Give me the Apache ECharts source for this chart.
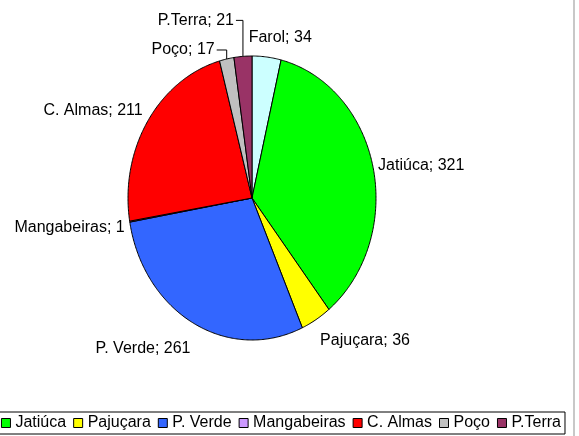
<!DOCTYPE html>
<html>
<head>
<meta charset="utf-8">
<script src="https://cdn.jsdelivr.net/npm/echarts@6/dist/echarts.min.js"></script>
<style>
html, body { margin: 0; padding: 0; background: #fff; }
#main { width: 573px; height: 436px; border-right: 2px solid #c8c8c8; }
</style>
</head>
<body>
<div id="main"></div>
<script>
// slices, clockwise from 12 o'clock
var names = ['Farol', 'Jatiúca', 'Pajuçara', 'P. Verde', 'Mangabeiras', 'C. Almas', 'Poço', 'P.Terra'];
var values = [34, 321, 36, 261, 1, 211, 17, 21];
var colors = ['#CCFFFF', '#00FF00', '#FFFF00', '#3366FF', '#CC99FF', '#FF0000', '#C0C0C0', '#993366'];

var total = values.reduce(function (a, b) { return a + b; }, 0);
var starts = [];
var acc = 0;
values.forEach(function (v) { starts.push(acc); acc += v; });

// the pie is drawn as an ellipse (taller than wide)
var cx = 252, cy = 198, rx = 124, ry = 142;
var FONT = '16px "Liberation Sans", Arial, sans-serif';

// label offsets from the middle of each slice's rim
var labelPos = {
  'Farol':       { dx: -18, dy: -19, align: 'left' },
  'Jatiúca':     { dx: 5,   dy: -2,  align: 'left' },
  'Pajuçara':    { dx: 4,   dy: 21,  align: 'left' },
  'P. Verde':    { dx: -3,  dy: 25,  align: 'right' },
  'Mangabeiras': { dx: -5,  dy: 6,   align: 'right' },
  'C. Almas':    { dx: -5,  dy: -11, align: 'right' },
  'Poço':        { dx: -12, dy: -9,  align: 'right', line: true },
  'P.Terra':     { dx: -9,  dy: -36, align: 'right', line: true }
};

function renderSlice(params, api) {
  var s = api.value(0), v = api.value(1);
  var a0 = s / total * Math.PI * 2;
  var a1 = (s + v) / total * Math.PI * 2;
  var pts = [[cx, cy]];
  var n = Math.max(2, Math.ceil((a1 - a0) / 0.01));
  for (var i = 0; i <= n; i++) {
    var a = a0 + (a1 - a0) * i / n;
    pts.push([cx + rx * Math.sin(a), cy - ry * Math.cos(a)]);
  }
  var am = (a0 + a1) / 2;
  var ax = cx + rx * Math.sin(am), ay = cy - ry * Math.cos(am);
  var name = names[params.seriesIndex];
  var lp = labelPos[name];
  var tx = ax + lp.dx, ty = ay + lp.dy;
  var children = [{
    type: 'polygon',
    shape: { points: pts },
    style: { fill: api.visual('color'), stroke: '#000', lineWidth: 1 }
  }];
  if (lp.line) {
    children.push({
      type: 'polyline',
      shape: { points: [[ax, ay], [ax, ty], [tx + 2, ty]] },
      style: { stroke: '#000', fill: null, lineWidth: 1 }
    });
  }
  children.push({
    type: 'text',
    x: tx, y: ty,
    style: { text: name + '; ' + v, fill: '#000', font: FONT, align: lp.align, verticalAlign: 'middle' }
  });
  return { type: 'group', children: children };
}

var series = names.map(function (nm, i) {
  return {
    name: nm,
    type: 'custom',
    coordinateSystem: 'none',
    itemStyle: { color: colors[i] },
    renderItem: renderSlice,
    data: [[starts[i], values[i]]]
  };
});

var myChart = echarts.init(document.getElementById('main'));
myChart.setOption({
  animation: false,
  backgroundColor: '#fff',
  legend: {
    data: names,
    left: -61,
    top: 412,
    icon: 'rect',
    itemWidth: 9,
    itemHeight: 9,
    itemGap: 7,
    padding: [3, 4],
    borderColor: '#000',
    borderWidth: 1,
    selectedMode: false,
    itemStyle: { borderColor: '#000', borderWidth: 1 },
    textStyle: { fontFamily: '"Liberation Sans", Arial, sans-serif', fontSize: 16, color: '#000' }
  },
  series: series
});
</script>
</body>
</html>
